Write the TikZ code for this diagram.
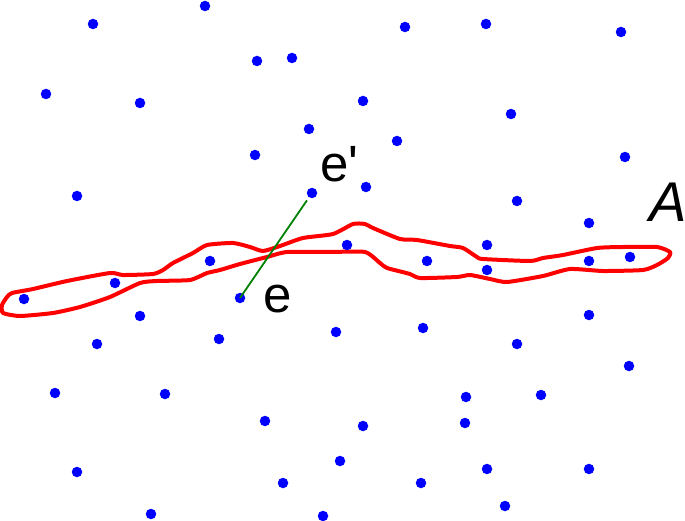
\documentclass[tikz,border=0pt]{standalone}
\usepackage{fontspec}
\setmainfont{Liberation Sans}
\usetikzlibrary{calc}
\begin{document}
\begin{tikzpicture}[x=1pt,y=-1pt,
  pt/.style={circle,fill=blue,inner sep=0pt,minimum size=10.5pt},
  lbl/.style={anchor=base west,inner sep=0pt,font=\fontsize{51}{51}\selectfont},
  region/.style={draw=red,line width=4pt,line join=round,line cap=round},
  edge/.style={draw=green!50!black,line width=1.8pt}]
\useasboundingbox (0,0) rectangle (685,521);
% red region A
\draw[region] plot[smooth cycle,tension=0.35] coordinates {
 (12,293) (33,289) (67,281) (110,273) (123,275) (153,274) (163,270) (173,263)
 (193,253) (207,245) (233,243) (250,247) (263,251) (280,246) (303,238) (333,234)
 (353,224) (365,224) (373,228) (400,239) (417,240) (450,246) (463,248) (477,257)
 (483,259) (530,261) (543,258) (563,255) (597,248) (623,247) (657,247) (670,252)
 (668,258) (657,265) (643,270) (603,271) (570,269) (543,276) (507,282) (490,279)
 (470,275) (457,277) (420,278) (410,274) (387,268) (380,263) (365,252) (330,252)
 (287,252) (267,257) (240,264) (220,270) (207,273) (190,280) (157,281) (140,283)
 (110,297) (80,307) (53,313) (20,316) (3,313) (2,305) (7,297)};
% points
\foreach \i/\x/\y in {1/93/24,2/205/6,3/405/27,4/486/24,5/621/32,6/257/61,7/292/58,
 8/46/94,9/140/103,10/363/101,11/511/114,12/309/129,13/397/141,14/255/155,15/625/157,
 17/366/187,18/77/196,19/517/201,20/589/223,21/347/245,22/487/245,23/210/261,
 24/427/261,25/487/270,26/589/261,27/630/257,28/115/283,29/24/299,31/140/316,
 32/336/332,33/423/328,34/589/315,35/97/344,36/219/339,37/517/344,38/629/366,39/55/393,
 40/165/394,41/466/397,42/541/395,43/265/421,44/363/426,45/465/423,46/340/461,47/77/472,
 48/487/469,49/589/469,50/283/483,51/421/483,52/151/514,53/323/516,54/505/506}
  \node[pt] (p\i) at (\x,\y) {};
\node[pt] (e) at (240,298) {};
\node[pt] (ep) at (312,193) {};
\draw[edge] (e.center) -- ($(e.center)!0.93!(ep.center)$);
\node[lbl] (le) at (263,312) {e};
\node[lbl] (lep) at (320,182) {e\textquotesingle};
\node[lbl,font=\fontsize{56}{56}\selectfont] (lA) at (649,222) {\itshape A};
\end{tikzpicture}
\end{document}
